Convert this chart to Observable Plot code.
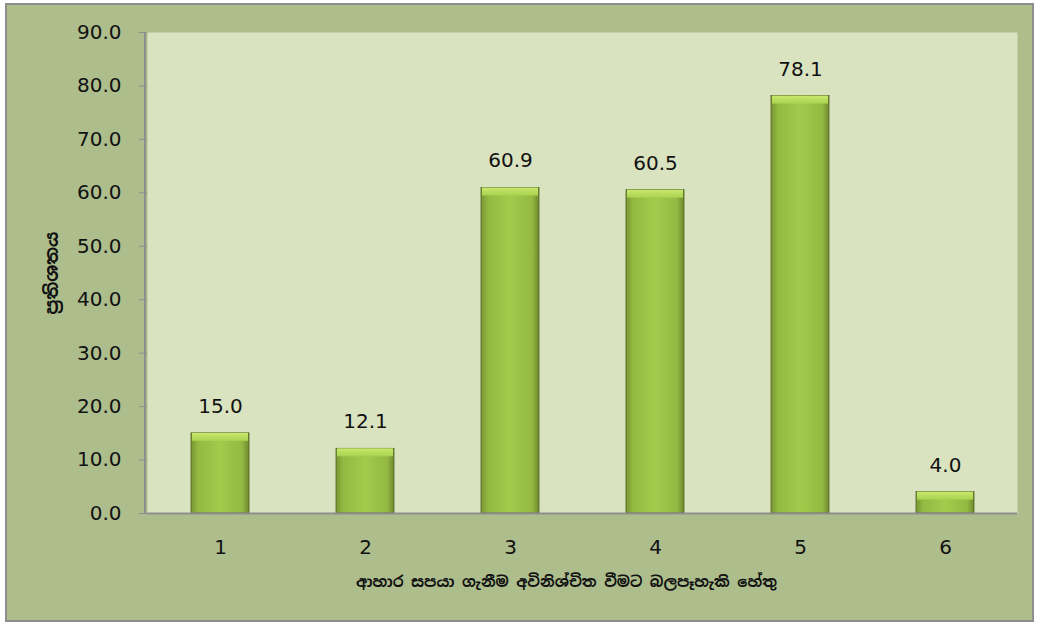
<!DOCTYPE html>
<html><head><meta charset="utf-8">
<script src="https://cdn.jsdelivr.net/npm/d3@7"></script>
<script src="https://cdn.jsdelivr.net/npm/@observablehq/plot@0.6"></script>
<style>
html,body{margin:0;padding:0;background:#fff;}
#wrap{position:relative;width:1038px;height:627px;overflow:hidden;}
#frame{position:absolute;left:5px;top:3px;width:1025px;height:615px;background:#adbd8c;border:2px solid #8e8e8e;}
#chart{position:absolute;left:0;top:0;}
</style></head>
<body><div id="wrap"><div id="frame"></div><div id="chart"></div></div>
<script>
const categories = ["1","2","3","4","5","6"];
const values = [15.0, 12.1, 60.9, 60.5, 78.1, 4.0];
const yTicks = [0,10,20,30,40,50,60,70,80,90];
const xTitle = "ආහාර සපයා ගැනීම අවිනිශ්චිත වීමට බලපෑහැකි හේතු";
const yTitle = "ප්‍රතිශතය";

const data = categories.map((c,i)=>({c, v: values[i]}));
const font = "'DejaVu Sans', 'Noto Sans', sans-serif";
const titleFont = "'Noto Sans Sinhala', 'Noto Sans', 'Lato', sans-serif";

const plot = Plot.plot({
  width: 1038, height: 627,
  marginLeft: 147, marginRight: 21, marginTop: 32, marginBottom: 114,
  style: {background: "transparent", fontFamily: font, fontSize: "20px", color: "#111"},
  x: {domain: categories, paddingInner: 0.6, paddingOuter: 0.3},
  y: {domain: [0, 90]},
  marks: [
    Plot.frame({fill: "#d9e3bf", stroke: null}),
    Plot.barY(data, {x: "c", y: "v", fill: "url(#barGrad)", stroke: "#4f5f22", strokeWidth: 0.8}),
    Plot.barY(data, {x: "c", y1: d => d.v - 1.5, y2: "v", fill: "url(#topGrad)", insetLeft: 1, insetRight: 1}),
    Plot.text(data, {x: "c", y: "v", text: d => d.v.toFixed(1), dy: -27, fontSize: 20, fill: "#111"}),
    Plot.ruleY([0], {stroke: "#8e8e8e", strokeWidth: 2}),
    Plot.axisY({ticks: yTicks, tickFormat: d => d.toFixed(1), tickSize: 8, tickPadding: 18, stroke: "#8e8e8e",
      label: yTitle, labelAnchor: "center", labelArrow: "none", labelOffset: 102, fontSize: 20}),
    Plot.axisX({tickSize: 0, tickPadding: 26, label: xTitle, labelAnchor: "center", labelArrow: "none", labelOffset: 73, fontSize: 20})
  ]
});

const svg = d3.select(plot);
const defs = svg.insert("defs", ":first-child");
const g = defs.append("linearGradient").attr("id","barGrad").attr("x1","0").attr("x2","1").attr("y1","0").attr("y2","0");
g.append("stop").attr("offset","0%").attr("stop-color","#789633");
g.append("stop").attr("offset","12%").attr("stop-color","#93b942");
g.append("stop").attr("offset","50%").attr("stop-color","#a2cb4c");
g.append("stop").attr("offset","88%").attr("stop-color","#93b942");
g.append("stop").attr("offset","100%").attr("stop-color","#6f8a2e");
const t = defs.append("linearGradient").attr("id","topGrad").attr("x1","0").attr("x2","0").attr("y1","0").attr("y2","1");
t.append("stop").attr("offset","0%").attr("stop-color","#c8e86e");
t.append("stop").attr("offset","100%").attr("stop-color","#a9d24f");
svg.append("line").attr("x1",145).attr("x2",145).attr("y1",32).attr("y2",513).attr("stroke","#8e8e8e").attr("stroke-width",2);
svg.selectAll("text").style("font-size","20px");
svg.selectAll("text").filter(function(){return this.textContent===xTitle;})
  .style("font-size","15px").style("font-family", titleFont).style("font-weight","700").attr("transform", function(){
    const tr = this.getAttribute("transform") || ""; return tr + " translate(-16,0)";});
svg.selectAll("text").filter(function(){return this.textContent===yTitle;})
  .style("font-size","18px").style("font-family", titleFont).style("font-weight","700");
document.getElementById("chart").appendChild(plot);
</script></body></html>
